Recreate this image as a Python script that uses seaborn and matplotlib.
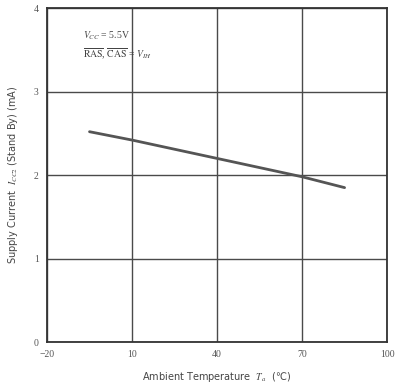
import matplotlib
matplotlib.use("Agg")
import matplotlib.pyplot as plt
import seaborn as sns
import pandas as pd

# Standby supply current vs. ambient temperature
temperature = [-5, 10, 40, 70, 85]
current_ma = [2.52, 2.42, 2.20, 1.98, 1.85]
x_ticks = [-20, 10, 40, 70, 100]
y_ticks = [0, 1, 2, 3, 4]

df = pd.DataFrame({"Ta": temperature, "Icc": current_ma})

sns.set_theme(style="white")
plt.rcParams["font.family"] = ["DejaVu Sans"]
plt.rcParams["mathtext.fontset"] = "stix"

fig = plt.figure(figsize=(3.95, 3.90), dpi=100)
ax = fig.add_axes([0.119, 0.123, 0.861, 0.856])

sns.lineplot(data=df, x="Ta", y="Icc", ax=ax, color="#555555", linewidth=2.0)

ax.set_xlim(x_ticks[0], x_ticks[-1])
ax.set_ylim(y_ticks[0], y_ticks[-1])
ax.set_xticks(x_ticks)
ax.set_yticks(y_ticks)
ax.set_xticklabels([f"{t}".replace("-", "\u2212") for t in x_ticks],
                   fontsize=7, color="#555555", family="Liberation Serif")
ax.set_yticklabels([str(t) for t in y_ticks],
                   fontsize=7, color="#555555", family="Liberation Serif")
ax.tick_params(axis="both", length=0, pad=6)

ax.grid(True, color="#4a4a4a", linewidth=1.0)
for side in ax.spines.values():
    side.set_color("#333333")
    side.set_linewidth(1.3)

ax.set_xlabel("Ambient Temperature  $T_a$  (℃)", fontsize=7, color="#444444",
              labelpad=8, family="DejaVu Sans")
ax.set_ylabel("Supply Current  $I_{CC2}$ (Stand By) (mA)", fontsize=7,
              color="#444444", labelpad=10, family="DejaVu Sans")

ax.text(0.105, 0.935, r"$V_{CC}$ = 5.5V", transform=ax.transAxes,
        fontsize=7, color="#444444", family="Liberation Serif", va="top")
ax.text(0.105, 0.885, r"$\overline{\mathrm{RAS}}$, $\overline{\mathrm{CAS}}$ = $V_{IH}$",
        transform=ax.transAxes, fontsize=7, color="#444444",
        family="Liberation Serif", va="top")

fig.savefig("out.png", dpi=100)
